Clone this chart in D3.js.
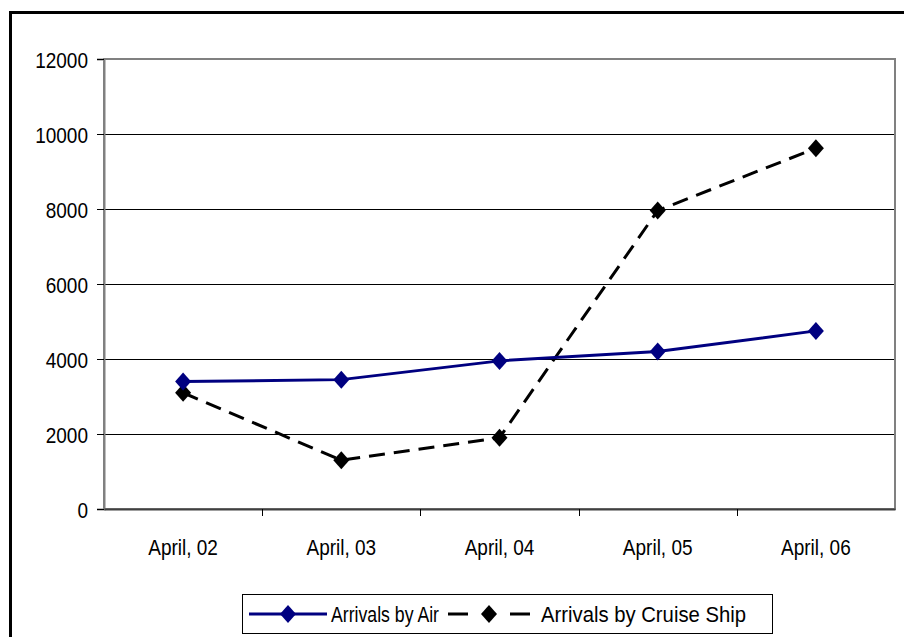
<!DOCTYPE html>
<html>
<head>
<meta charset="utf-8">
<script src="https://cdn.jsdelivr.net/npm/d3@7"></script>
<style>
body { margin: 0; background: #fff; }
text { font-family: "Liberation Sans", Arial, sans-serif; fill: #000; }
</style>
</head>
<body>
<div id="chart"></div>
<script>
// data
var days = ["April, 02", "April, 03", "April, 04", "April, 05", "April, 06"];
var airArrivals = [3400, 3450, 3950, 4200, 4750];
var cruiseArrivals = [3100, 1300, 1900, 7960, 9620];
var yTicks = [0, 2000, 4000, 6000, 8000, 10000, 12000];
var seriesNames = ["Arrivals by Air", "Arrivals by Cruise Ship"];

var W = 904, H = 637;
var plotLeft = 104, plotRight = 895, plotTop = 59, plotBottom = 509;
var FS = 19, STRETCH = 1.15;

var svg = d3.select("#chart").append("svg").attr("width", W).attr("height", H);

// outer frame (only left and top edges are in the picture)
svg.append("rect").attr("x", 10.5).attr("y", 12.5).attr("width", W + 20).attr("height", H + 20)
    .attr("fill", "none").attr("stroke", "#000").attr("stroke-width", 3);

var x = d3.scaleBand().domain(days).range([plotLeft, plotRight]);
var y = d3.scaleLinear().domain([0, 12000]).range([plotBottom, plotTop]);

// gridlines
svg.append("g").selectAll("line").data(yTicks.slice(1, -1)).enter().append("line")
    .attr("x1", plotLeft).attr("x2", plotRight)
    .attr("y1", function(d){ return Math.round(y(d)) + 0.5; })
    .attr("y2", function(d){ return Math.round(y(d)) + 0.5; })
    .attr("stroke", "#000").attr("stroke-width", 1);

// plot area border
svg.append("rect").attr("x", plotLeft).attr("y", plotTop)
    .attr("width", plotRight - plotLeft).attr("height", plotBottom - plotTop)
    .attr("fill", "none").attr("stroke", "#808080").attr("stroke-width", 2);

// stretch a text vertically around its baseline
function stretch(sel) {
    sel.each(function() {
        var t = d3.select(this);
        var tx = +t.attr("x") || 0, ty = +t.attr("y") || 0;
        t.attr("x", 0).attr("y", 0)
         .attr("transform", "translate(" + tx + "," + ty + ") scale(1," + STRETCH + ")");
    });
}

// y axis
var yAxis = d3.axisLeft(y).tickValues(yTicks).tickSize(7).tickPadding(9).tickFormat(d3.format("d"));
var gy = svg.append("g").attr("transform", "translate(" + plotLeft + ",0)").call(yAxis);
gy.select(".domain").attr("stroke", "#808080").attr("stroke-width", 2);
gy.selectAll(".tick line").attr("stroke", "#000");
gy.selectAll("text").style("font-size", FS + "px").attr("dy", null).attr("y", 8);
stretch(gy.selectAll("text"));

// x axis, ticks between categories
var xAxis = d3.axisBottom(x).tickSize(0).tickPadding(0);
var gx = svg.append("g").attr("transform", "translate(0," + plotBottom + ")").call(xAxis);
gx.select(".domain").attr("stroke", "#404040").attr("stroke-width", 2);
gx.selectAll("text").style("font-size", FS + "px").attr("dy", null).attr("y", 46);
stretch(gx.selectAll("text"));
gx.selectAll(".sep").data(days.slice(1)).enter().append("line").attr("class", "sep")
    .attr("x1", function(d){ return Math.round(x(d)) + 0.5; })
    .attr("x2", function(d){ return Math.round(x(d)) + 0.5; })
    .attr("y1", 0).attr("y2", 7).attr("stroke", "#000");

var diamond = "M0,-9L8,0L0,9L-8,0Z";
var cx = function(d, i){ return x(days[i]) + x.bandwidth() / 2; };
var line = d3.line().x(cx).y(function(d){ return y(d); });

// cruise ship series
svg.append("path").datum(cruiseArrivals).attr("d", line).attr("fill", "none")
    .attr("stroke", "#000").attr("stroke-width", 3).attr("stroke-dasharray", "16,9");
svg.append("g").selectAll("path").data(cruiseArrivals).enter().append("path")
    .attr("d", diamond).attr("fill", "#000")
    .attr("transform", function(d, i){ return "translate(" + cx(d, i) + "," + y(d) + ")"; });

// air series
svg.append("path").datum(airArrivals).attr("d", line).attr("fill", "none")
    .attr("stroke", "#000080").attr("stroke-width", 3);
svg.append("g").selectAll("path").data(airArrivals).enter().append("path")
    .attr("d", diamond).attr("fill", "#000080")
    .attr("transform", function(d, i){ return "translate(" + cx(d, i) + "," + y(d) + ")"; });

// legend
var lg = svg.append("g");
lg.append("rect").attr("x", 242.5).attr("y", 594.5).attr("width", 530).attr("height", 39)
    .attr("fill", "#fff").attr("stroke", "#000").attr("stroke-width", 1);
var ly = 614;
lg.append("line").attr("x1", 249).attr("x2", 327).attr("y1", ly).attr("y2", ly)
    .attr("stroke", "#000080").attr("stroke-width", 3);
lg.append("path").attr("d", diamond).attr("fill", "#000080").attr("transform", "translate(288," + ly + ")");
lg.append("line").attr("x1", 448).attr("x2", 530).attr("y1", ly).attr("y2", ly)
    .attr("stroke", "#000").attr("stroke-width", 3).attr("stroke-dasharray", "20,42,20");
lg.append("path").attr("d", diamond).attr("fill", "#000").attr("transform", "translate(489," + ly + ")");
var lt = lg.selectAll("text.lbl").data(seriesNames).enter().append("text").attr("class", "lbl")
    .attr("x", function(d, i){ return i ? 541 : 331; }).attr("y", ly + 8)
    .attr("textLength", function(d, i){ return i ? 205 : 108; })
    .attr("lengthAdjust", "spacingAndGlyphs")
    .style("font-size", FS + "px").text(function(d){ return d; });
stretch(lt);
</script>
</body>
</html>
